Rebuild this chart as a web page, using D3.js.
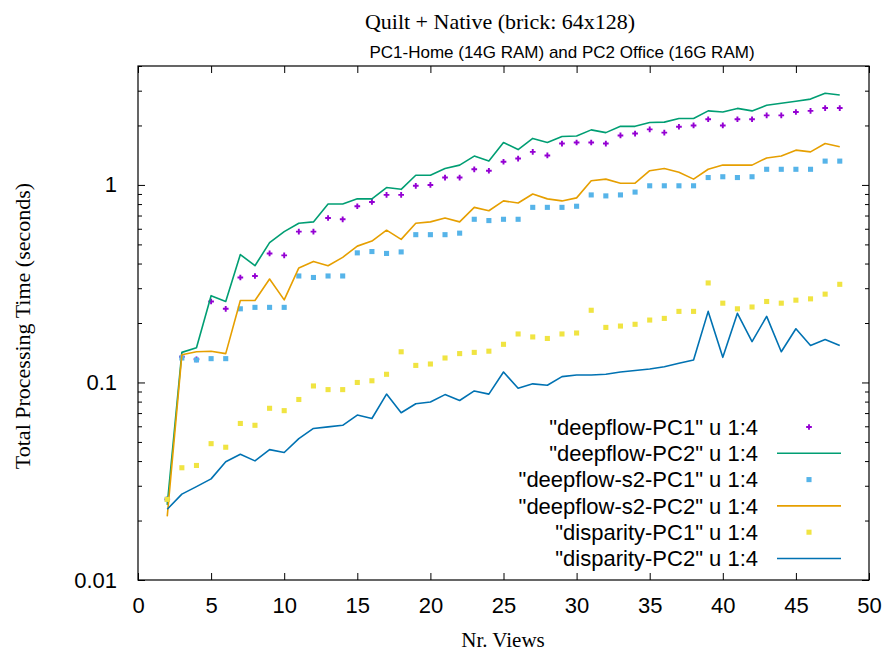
<!DOCTYPE html>
<html>
<head>
<meta charset="utf-8">
<script src="https://cdn.jsdelivr.net/npm/d3@7"></script>
<style>
  body { margin: 0; background: #fff; }
  svg { display: block; }
</style>
</head>
<body>
<div id="chart"></div>
<script>
// number of views (x)
const views = [2, 3, 4, 5, 6, 7, 8, 9, 10, 11, 12, 13, 14, 15, 16, 17, 18, 19, 20, 21, 22, 23, 24, 25,
  26, 27, 28, 29, 30, 31, 32, 33, 34, 35, 36, 37, 38, 39, 40, 41, 42, 43, 44, 45, 46, 47, 48];

// total processing time (seconds)
const deepflowPC1 = [0.0256, 0.135, 0.131, 0.257, 0.236, 0.34, 0.346, 0.45, 0.44, 0.58, 0.58, 0.68, 0.67, 0.78, 0.82,
  0.89, 0.89, 0.99, 1.0, 1.09, 1.09, 1.2, 1.18, 1.31, 1.36, 1.47, 1.41, 1.62, 1.64, 1.64, 1.62, 1.78, 1.82, 1.91,
  1.84, 1.97, 2.0, 2.15, 2.0, 2.15, 2.15, 2.25, 2.25, 2.34, 2.37, 2.45, 2.45];
const deepflowPC2 = [0.024, 0.142, 0.15, 0.275, 0.257, 0.444, 0.39, 0.51, 0.58, 0.64, 0.65, 0.80, 0.80, 0.85, 0.85,
  0.97, 0.95, 1.12, 1.12, 1.21, 1.26, 1.40, 1.32, 1.64, 1.51, 1.72, 1.64, 1.76, 1.77, 1.90, 1.84, 1.98, 1.98, 2.07,
  2.08, 2.17, 2.17, 2.37, 2.34, 2.44, 2.37, 2.53, 2.59, 2.65, 2.72, 2.91, 2.85];
const deepflowS2PC1 = [0.0256, 0.133, 0.13, 0.132, 0.132, 0.236, 0.24, 0.24, 0.24, 0.346, 0.34, 0.346, 0.346, 0.453,
  0.46, 0.45, 0.458, 0.56, 0.56, 0.56, 0.57, 0.67, 0.66, 0.67, 0.67, 0.77, 0.77, 0.77, 0.78, 0.89, 0.88, 0.89, 0.92,
  0.99, 0.99, 0.99, 0.99, 1.09, 1.10, 1.09, 1.10, 1.2, 1.2, 1.2, 1.2, 1.32, 1.32];
const deepflowS2PC2 = [0.021, 0.138, 0.143, 0.144, 0.14, 0.26, 0.26, 0.334, 0.262, 0.38, 0.41, 0.39, 0.43, 0.49, 0.52,
  0.59, 0.53, 0.64, 0.65, 0.68, 0.65, 0.77, 0.74, 0.83, 0.81, 0.90, 0.85, 0.83, 0.86, 1.05, 1.07, 1.02, 1.02, 1.18,
  1.21, 1.16, 1.07, 1.2, 1.26, 1.26, 1.26, 1.37, 1.40, 1.50, 1.47, 1.62, 1.56];
const disparityPC1 = [0.0256, 0.037, 0.038, 0.049, 0.047, 0.062, 0.0607, 0.074, 0.072, 0.082, 0.096, 0.092, 0.092, 0.1,
  0.102, 0.11, 0.143, 0.122, 0.124, 0.133, 0.14, 0.142, 0.144, 0.156, 0.176, 0.17, 0.167, 0.176, 0.178, 0.232, 0.19,
  0.193, 0.197, 0.207, 0.211, 0.229, 0.229, 0.319, 0.252, 0.236, 0.241, 0.257, 0.252, 0.261, 0.265, 0.28, 0.314];
const disparityPC2 = [0.0228, 0.0272, 0.0297, 0.0325, 0.0397, 0.0433, 0.0401, 0.0457, 0.0442, 0.052, 0.0585, 0.0596,
  0.0607, 0.0684, 0.0657, 0.0873, 0.0703, 0.078, 0.0796, 0.0868, 0.081, 0.0906, 0.0873, 0.113, 0.0935, 0.0984, 0.0968,
  0.107, 0.109, 0.109, 0.11, 0.113, 0.115, 0.117, 0.12, 0.125, 0.13, 0.229, 0.134, 0.224, 0.161, 0.216, 0.143, 0.187,
  0.154, 0.165, 0.154];

const seriesNames = ['"deepflow-PC1" u 1:4', '"deepflow-PC2" u 1:4', '"deepflow-s2-PC1" u 1:4',
  '"deepflow-s2-PC2" u 1:4', '"disparity-PC1" u 1:4', '"disparity-PC2" u 1:4'];
const xTicks = [0, 5, 10, 15, 20, 25, 30, 35, 40, 45, 50];
const yTicks = [0.01, 0.1, 1];

// series styles (gnuplot default palette)
const series = [
  { name: seriesNames[0], values: deepflowPC1, color: '#9400d3', kind: 'cross' },
  { name: seriesNames[1], values: deepflowPC2, color: '#009e73', kind: 'line' },
  { name: seriesNames[2], values: deepflowS2PC1, color: '#56b4e9', kind: 'square' },
  { name: seriesNames[3], values: deepflowS2PC2, color: '#e69f00', kind: 'line' },
  { name: seriesNames[4], values: disparityPC1, color: '#f0e442', kind: 'square' },
  { name: seriesNames[5], values: disparityPC2, color: '#0072b2', kind: 'line' }
];

const width = 882, height = 654;
const plotLeft = 138, plotRight = 869, plotTop = 66, plotBottom = 580;
const sans = '"Liberation Sans", Arial, sans-serif';
const serif = '"Liberation Serif", "Times New Roman", serif';

const svg = d3.select('#chart').append('svg')
  .attr('width', width)
  .attr('height', height);

const x = d3.scaleLinear().domain([0, 50]).range([plotLeft, plotRight]);
const y = d3.scaleLog().domain([0.01, 4]).range([plotBottom, plotTop]);

// minor log ticks 2..9 of each decade
const minorTicks = [];
[0.01, 0.1, 1].forEach(d => {
  for (let k = 2; k <= 9; k++) {
    if (d * k <= 4) minorTicks.push(d * k);
  }
});

// axes, ticks drawn inward like gnuplot
const axisG = svg.append('g');

axisG.append('g')
  .attr('transform', `translate(0,${plotBottom})`)
  .call(d3.axisBottom(x).tickValues(xTicks).tickSize(-7).tickPadding(17).tickFormat(d3.format('d')));
axisG.append('g')
  .attr('transform', `translate(0,${plotTop})`)
  .call(d3.axisTop(x).tickValues(xTicks).tickSize(-7).tickFormat(''));
axisG.append('g')
  .attr('transform', `translate(${plotLeft},0)`)
  .call(d3.axisLeft(y).tickValues(yTicks).tickSize(-7).tickPadding(21).tickFormat(d => d));
axisG.append('g')
  .attr('transform', `translate(${plotLeft},0)`)
  .call(d3.axisLeft(y).tickValues(minorTicks).tickSize(-4).tickFormat(''));
axisG.append('g')
  .attr('transform', `translate(${plotRight},0)`)
  .call(d3.axisRight(y).tickValues(yTicks).tickSize(-7).tickFormat(''));
axisG.append('g')
  .attr('transform', `translate(${plotRight},0)`)
  .call(d3.axisRight(y).tickValues(minorTicks).tickSize(-4).tickFormat(''));

axisG.selectAll('.domain').remove();
axisG.selectAll('.tick line').attr('stroke', '#000').attr('stroke-width', 1);
axisG.selectAll('.tick text')
  .attr('fill', '#000')
  .style('font-family', sans)
  .style('font-size', '22px');

// frame
svg.append('rect')
  .attr('x', plotLeft).attr('y', plotTop)
  .attr('width', plotRight - plotLeft).attr('height', plotBottom - plotTop)
  .attr('fill', 'none')
  .attr('stroke', '#000')
  .attr('stroke-width', 1.2);

// data
const plot = svg.append('g');
const line = d3.line()
  .x((d, i) => x(views[i]))
  .y(d => y(d));

const crossSym = d3.symbol().type(d3.symbolCross).size(18);
const squareSym = d3.symbol().type(d3.symbolSquare).size(26);

series.forEach(s => {
  if (s.kind === 'line') {
    plot.append('path')
      .datum(s.values)
      .attr('fill', 'none')
      .attr('stroke', s.color)
      .attr('stroke-width', 1.6)
      .attr('stroke-linejoin', 'round')
      .attr('d', line);
  } else {
    plot.append('g')
      .selectAll('path')
      .data(s.values)
      .join('path')
      .attr('transform', (d, i) => `translate(${x(views[i])},${y(d)})`)
      .attr('d', s.kind === 'cross' ? crossSym : squareSym)
      .attr('fill', s.color);
  }
});

// legend
const legend = svg.append('g');
series.forEach((s, i) => {
  const ly = 427 + i * 26.3;
  legend.append('text')
    .attr('x', 758)
    .attr('y', ly)
    .attr('dy', '0.35em')
    .attr('text-anchor', 'end')
    .style('font-family', sans)
    .style('font-size', '22px')
    .attr('fill', '#000')
    .text(s.name);
  if (s.kind === 'line') {
    legend.append('line')
      .attr('x1', 777).attr('x2', 841)
      .attr('y1', ly).attr('y2', ly)
      .attr('stroke', s.color)
      .attr('stroke-width', 1.6);
  } else {
    legend.append('path')
      .attr('transform', `translate(809,${ly})`)
      .attr('d', s.kind === 'cross' ? crossSym : squareSym)
      .attr('fill', s.color);
  }
});

// titles and labels
svg.append('text')
  .attr('x', 500).attr('y', 29)
  .attr('text-anchor', 'middle')
  .style('font-family', serif)
  .style('font-size', '22px')
  .text('Quilt + Native (brick: 64x128)');

svg.append('text')
  .attr('x', 562).attr('y', 58)
  .attr('text-anchor', 'middle')
  .style('font-family', sans)
  .style('font-size', '17px')
  .text('PC1-Home (14G RAM) and PC2 Office (16G RAM)');

svg.append('text')
  .attr('x', 503).attr('y', 647)
  .attr('text-anchor', 'middle')
  .style('font-family', serif)
  .style('font-size', '21px')
  .text('Nr. Views');

svg.append('text')
  .attr('transform', 'translate(30,326) rotate(-90)')
  .attr('text-anchor', 'middle')
  .style('font-family', serif)
  .style('font-size', '22px')
  .text('Total Processing Time (seconds)');
</script>
</body>
</html>
